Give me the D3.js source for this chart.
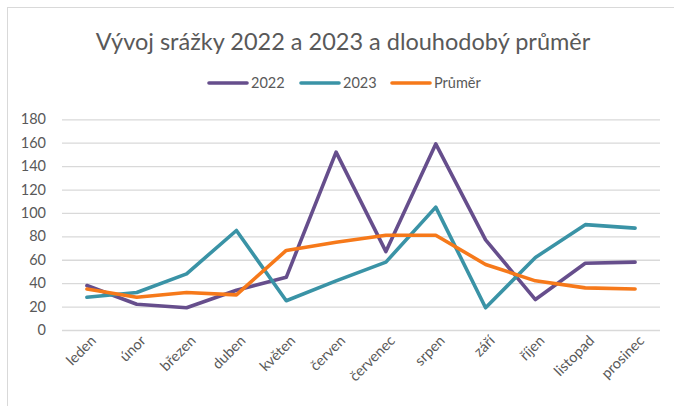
<!DOCTYPE html>
<html>
<head>
<meta charset="utf-8">
<script src="https://cdn.jsdelivr.net/npm/d3@7"></script>
<style>
  body { margin: 0; background: #fff; }
  text { font-family: Lato, "Open Sans", sans-serif; fill: #595959; }
</style>
</head>
<body>
<svg id="chart" width="674" height="406"></svg>
<script>
// --------DATA--------------
var months = ["leden", "únor", "březen", "duben", "květen", "červen",
              "červenec", "srpen", "září", "říjen", "listopad", "prosinec"];
var rain2022 = [38, 22, 19, 34, 45, 152, 67, 159, 77, 26, 57, 58];
var rain2023 = [28, 32, 48, 85, 25, 42, 58, 105, 19, 62, 90, 87];
var prumer   = [35, 28, 32, 30, 68, 75, 81, 81, 56, 42, 36, 35];
var yTicks = [0, 20, 40, 60, 80, 100, 120, 140, 160, 180];
var seriesNames = ["2022", "2023", "Průměr"];
var seriesColors = ["#664e8c", "#3a93a6", "#f6791a"];

var svg = d3.select("#chart");

// chart frame
svg.append("rect")
  .attr("x", 7.5).attr("y", 7.5)
  .attr("width", 680).attr("height", 420)
  .attr("fill", "#fff")
  .attr("stroke", "#d9d9d9")
  .attr("stroke-width", 1);

var x = d3.scalePoint()
  .domain(months)
  .range([62, 660])
  .padding(0.5);

var y = d3.scaleLinear()
  .domain([0, 180])
  .range([330, 119.3]);

// title
svg.append("text")
  .attr("x", 343).attr("y", 50)
  .attr("text-anchor", "middle")
  .style("font-size", "23.5px")
  .text("Vývoj srážky 2022 a 2023 a dlouhodobý průměr");

// ----------GRID + Y AXIS---------------
var yAxis = svg.append("g")
  .attr("transform", "translate(62,0)")
  .call(d3.axisLeft(y).tickValues(yTicks).tickSize(-598).tickPadding(16));
yAxis.select(".domain").remove();
yAxis.selectAll("line").attr("stroke", "#d9d9d9").attr("stroke-width", 1.3);
yAxis.selectAll("text")
  .attr("fill", "#595959")
  .style("font-family", "Lato, sans-serif")
  .style("font-size", "14.5px");

// x labels
var xAxis = svg.append("g")
  .attr("transform", "translate(0,330)")
  .call(d3.axisBottom(x).tickSize(0).tickPadding(0));
xAxis.select(".domain").remove();
xAxis.selectAll("text")
  .attr("fill", "#595959")
  .style("font-family", "Lato, sans-serif")
  .style("font-size", "14.5px")
  .attr("text-anchor", "end")
  .attr("transform", "translate(6,8) rotate(-45)")
  .attr("dy", "0.35em");

// ----------LINES---------------
var allSeries = [rain2022, rain2023, prumer];
var line = d3.line()
  .x(function(d, i) { return x(months[i]); })
  .y(function(d) { return y(d); });

allSeries.forEach(function(s, k) {
  svg.append("path")
    .datum(s)
    .attr("d", line)
    .attr("fill", "none")
    .attr("stroke", seriesColors[k])
    .attr("stroke-width", 3.6)
    .attr("stroke-linejoin", "round")
    .attr("stroke-linecap", "round");
});

// ----------LEGEND---------------
var legendX = [208, 300, 391];
var legend = svg.selectAll(".legend")
  .data(seriesNames)
  .enter()
  .append("g")
  .attr("class", "legend")
  .attr("transform", function(d, i) { return "translate(" + legendX[i] + ",83)"; });

legend.append("line")
  .attr("x1", 1).attr("x2", 39)
  .attr("stroke", function(d, i) { return seriesColors[i]; })
  .attr("stroke-width", 3.6)
  .attr("stroke-linecap", "round");

legend.append("text")
  .attr("x", 43)
  .attr("dy", "0.35em")
  .style("font-size", "14.5px")
  .text(function(d) { return d; });
</script>
</body>
</html>
